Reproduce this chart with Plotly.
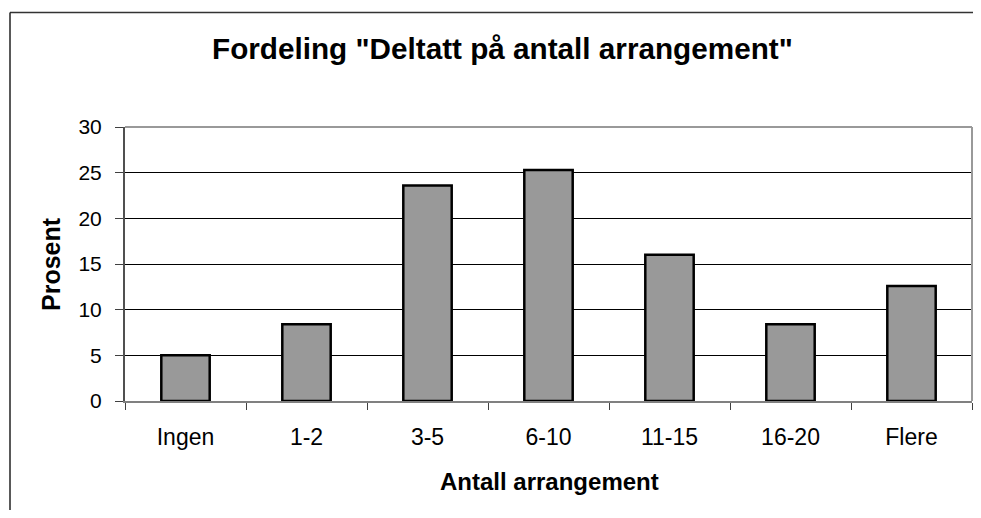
import plotly.graph_objects as go

categories = ["Ingen", "1-2", "3-5", "6-10", "11-15", "16-20", "Flere"]
prosent = [5.0, 8.4, 23.6, 25.3, 16.0, 8.4, 12.6]
y_ticks = [0, 5, 10, 15, 20, 25, 30]

# The page body has an 8px margin; lay out in screen coordinates and shift,
# keeping the figure small enough that the page does not overflow.
OFF = 8
SW, SH = 981, 518
W, H = SW - 2 * OFF, SH - 2 * OFF
X0, X1, Y0, Y1 = 125, 972, 127, 401
L, R, T, B = X0 - OFF, (W + OFF) - X1, Y0 - OFF, (H + OFF) - Y1
pw, ph = X1 - X0, Y1 - Y0

def px(x):
    return (x - X0) / pw

def py(y):
    return (Y1 - y) / ph

FONT = "Liberation Sans, Arial, sans-serif"

fig = go.Figure(go.Bar(
    x=categories, y=prosent,
    marker=dict(color="#999999", line=dict(color="black", width=2.5)),
    width=0.4,
))

fig.update_layout(
    width=W, height=H,
    margin=dict(l=L, r=R, t=T, b=B),
    paper_bgcolor="white", plot_bgcolor="white",
    showlegend=False,
    font=dict(family=FONT, color="black", size=22),
    xaxis=dict(
        type="category", showgrid=False, showline=True, linecolor="#808080", linewidth=2,
        ticks="outside", tickson="boundaries", ticklen=7, tickcolor="#404040", tickwidth=1,
        tickfont=dict(size=23), ticklabelstandoff=14,
    ),
    yaxis=dict(
        range=[0, 30], tickvals=y_ticks, showgrid=True, gridcolor="black", gridwidth=1,
        zeroline=False, showline=True, linecolor="#505050", linewidth=2,
        ticks="outside", ticklen=8, tickcolor="#404040", tickwidth=1,
        tickfont=dict(size=21), ticklabelstandoff=9,
    ),
    shapes=[
        dict(type="line", xref="paper", yref="paper", x0=0, x1=1, y0=1, y1=1,
             line=dict(color="#999999", width=2)),
        dict(type="line", xref="paper", yref="paper", x0=1, x1=1, y0=0, y1=1,
             line=dict(color="#999999", width=2)),
        dict(type="line", xref="paper", yref="paper", x0=px(10), x1=px(990), y0=py(12.5), y1=py(12.5),
             line=dict(color="#333333", width=1.5)),
        dict(type="line", xref="paper", yref="paper", x0=px(10), x1=px(10), y0=py(12.5), y1=py(530),
             line=dict(color="#222222", width=1.5)),
    ],
    annotations=[
        dict(text='<b>Fordeling "Deltatt på antall arrangement"</b>', x=px(502), y=py(48),
             xref="paper", yref="paper", showarrow=False, xanchor="center", yanchor="middle",
             font=dict(size=29.7, family=FONT)),
        dict(text="<b>Antall arrangement</b>", x=px(549), y=py(481),
             xref="paper", yref="paper", showarrow=False, xanchor="center", yanchor="middle",
             font=dict(size=24, family=FONT)),
        dict(text="<b>Prosent</b>", x=px(51), y=py(264), textangle=-90,
             xref="paper", yref="paper", showarrow=False, xanchor="center", yanchor="middle",
             font=dict(size=25, family=FONT)),
    ],
)

fig.write_html("out.html")
